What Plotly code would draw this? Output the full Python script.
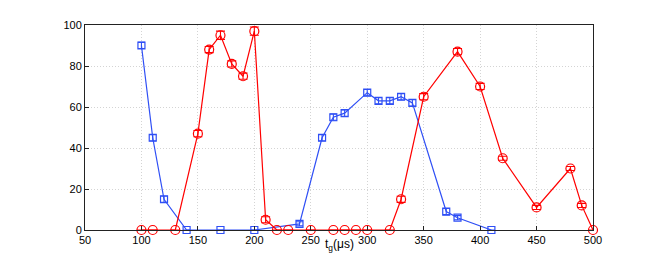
import plotly.graph_objects as go

# blue series (squares)
blue_x = [100, 110, 120, 140, 170, 200, 240, 260, 270, 280, 300, 310, 320, 330, 340, 370, 380, 410]
blue_y = [90, 45, 15, 0, 0, 0, 3, 45, 55, 57, 67, 63, 63, 65, 62, 9, 6, 0]
blue_err = [1.5, 1.5, 1.5, 0, 0, 0, 1, 1.5, 1.5, 1.5, 1.5, 1.5, 1.5, 1.5, 1.5, 1.5, 1, 0]

# red series (circles)
red_x = [100, 110, 130, 150, 160, 170, 180, 190, 200, 210, 220, 230, 250, 270, 280, 290, 300,
         320, 330, 350, 380, 400, 420, 450, 480, 490, 500]
red_y = [0, 0, 0, 47, 88, 95, 81, 75, 97, 5, 0, 0, 0, 0, 0, 0, 0,
         0, 15, 65, 87, 70, 35, 11, 30, 12, 0]
red_err = [0, 0, 0, 1.5, 1.5, 2, 1.5, 1.5, 2, 1.5, 0, 0, 0, 0, 0, 0, 0,
           0, 1.5, 1.5, 1.5, 1.5, 1, 1, 1, 1, 0]

x_ticks = [50, 100, 150, 200, 250, 300, 350, 400, 450, 500]
y_ticks = [0, 20, 40, 60, 80, 100]

fig = go.Figure()
fig.add_trace(go.Scatter(x=blue_x, y=blue_y, mode='lines+markers',
                         line=dict(color='#2f4ff5', width=1.2),
                         marker=dict(symbol='square-open', size=7, color='#2f4ff5', line=dict(width=1.2)),
                         error_y=dict(type='data', array=blue_err, color='#2f4ff5', thickness=1.1, width=3.5),
                         cliponaxis=False))
fig.add_trace(go.Scatter(x=red_x, y=red_y, mode='lines+markers',
                         line=dict(color='#ff0000', width=1.2),
                         marker=dict(symbol='circle-open', size=9, color='#ff0000', line=dict(width=1.2)),
                         error_y=dict(type='data', array=red_err, color='#ff0000', thickness=1.1, width=4.5),
                         cliponaxis=False))

axis_style = dict(showline=True, linecolor='#222222', linewidth=1, mirror=True,
                  ticks='inside', ticklen=4, tickcolor='#222222',
                  showgrid=True, gridcolor='#d4d4d4', griddash='1px,2px', gridwidth=1,
                  zeroline=False, tickfont=dict(family='Liberation Sans, Arial', size=11, color='black'))

fig.update_xaxes(range=[50, 500], tickvals=x_ticks, **axis_style)
fig.update_yaxes(range=[0, 100], tickvals=y_ticks, ticklabelstandoff=0, **axis_style)

fig.add_annotation(x=0.5, y=0, xref='paper', yref='paper', yanchor='top', yshift=-5, showarrow=False,
                   text='t<sub>g</sub>(μs)', font=dict(family='Liberation Sans, Arial', size=12, color='black'))

# page body has an 8px margin, so the figure is offset by 8px
fig.update_layout(width=646, height=251, showlegend=False,
                  margin=dict(l=77, r=61, t=11, b=29),
                  plot_bgcolor='white', paper_bgcolor='white')

fig.write_html("out.html")
